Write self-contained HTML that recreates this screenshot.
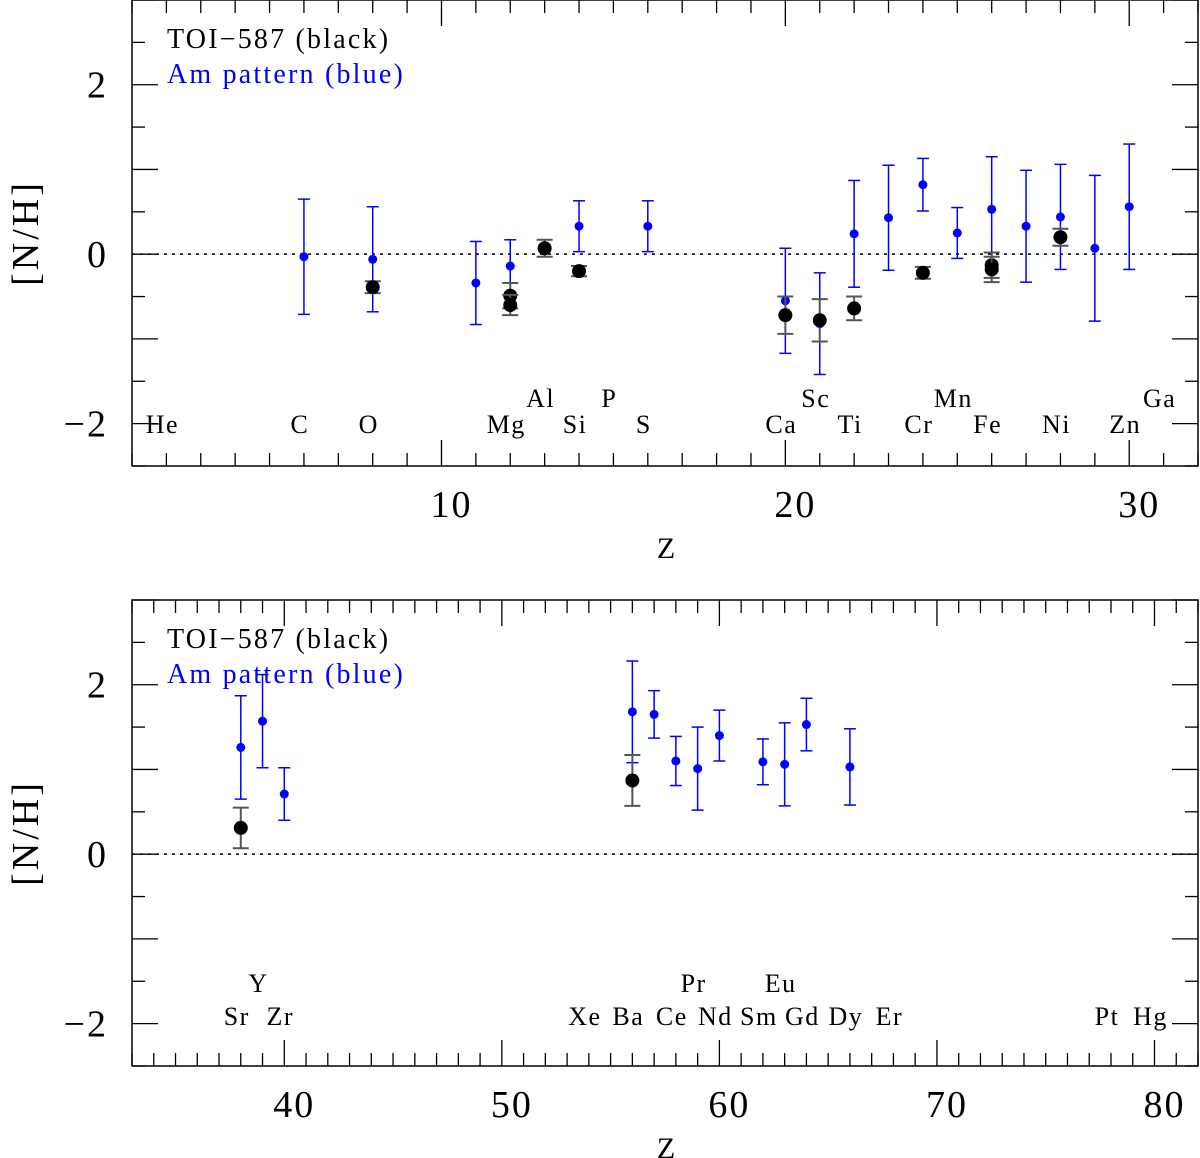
<!DOCTYPE html>
<html><head><meta charset="utf-8">
<style>
html,body{margin:0;padding:0;background:#fff;}
svg{display:block;font-family:"Liberation Serif",serif;}
</style></head>
<body>
<svg id="chart" width="1200" height="1158" viewBox="0 0 1200 1158" xmlns="http://www.w3.org/2000/svg"></svg>
<script>
// ---- Top panel data ----
const topBlueZ   = [6, 8, 11, 12, 14, 16, 20, 21, 22, 23, 24, 25, 26, 27, 28, 29, 30];
const topBlueVal = [-0.03, -0.06, -0.34, -0.14, 0.33, 0.33, -0.55, -0.82, 0.24, 0.43, 0.82, 0.25, 0.53, 0.33, 0.44, 0.07, 0.56];
const topBlueErr = [0.68, 0.62, 0.49, 0.31, 0.30, 0.30, 0.62, 0.60, 0.63, 0.62, 0.31, 0.30, 0.62, 0.66, 0.62, 0.86, 0.74];
const topBlackZ   = [8, 12, 12, 13, 14, 20, 21, 22, 24, 26, 26, 28];
const topBlackVal = [-0.39, -0.49, -0.60, 0.07, -0.20, -0.72, -0.78, -0.64, -0.22, -0.13, -0.18, 0.20];
const topBlackErr = [0.07, 0.15, 0.12, 0.10, 0.06, 0.22, 0.25, 0.14, 0.07, 0.15, 0.15, 0.10];
const topLabelsLow  = [["He",2],["C",6],["O",8],["Mg",12],["Si",14],["S",16],["Ca",20],["Ti",22],["Cr",24],["Fe",26],["Ni",28],["Zn",30]];
const topLabelsHigh = [["Al",13],["P",15],["Sc",21],["Mn",25],["Ga",31]];
const topXTicks = [10, 20, 30];
// ---- Bottom panel data ----
const botBlueZ   = [38, 39, 40, 56, 57, 58, 59, 60, 62, 63, 64, 66];
const botBlueVal = [1.26, 1.57, 0.71, 1.68, 1.65, 1.10, 1.01, 1.40, 1.09, 1.06, 1.53, 1.03];
const botBlueErr = [0.61, 0.55, 0.31, 0.60, 0.28, 0.29, 0.49, 0.30, 0.27, 0.49, 0.31, 0.45];
const botBlackZ   = [38, 56];
const botBlackVal = [0.31, 0.87];
const botBlackErr = [0.24, 0.30];
const botLabelsLow  = [["Sr",38],["Zr",40],["Xe",54],["Ba",56],["Ce",58],["Nd",60],["Sm",62],["Gd",64],["Dy",66],["Er",68],["Pt",78],["Hg",80]];
const botLabelsHigh = [["Y",39],["Pr",59],["Eu",63]];
const botXTicks = [40, 50, 60, 70, 80];
const yTicks = [-2, 0, 2];

const NS = "http://www.w3.org/2000/svg";
const svg = document.getElementById("chart");
function mk(tag, attrs, parent, text){
  const e = document.createElementNS(NS, tag);
  for (const k in attrs) e.setAttribute(k, attrs[k]);
  if (text !== undefined) e.textContent = text;
  (parent || svg).appendChild(e);
  return e;
}

function panel(cfg){
  const L=132, R=1198, T=cfg.top, B=cfg.top+466;
  const sx = z => L + (z - cfg.zmin) / (cfg.zmax - cfg.zmin) * (R - L);
  const sy = v => T + (3 - v) / 5.5 * (B - T);
  const g = mk("g", {});
  
  
  const frame = mk("rect", {x:L, y:T, width:R-L, height:B-T, fill:"none", stroke:"#000", "stroke-width":1.5}, g);
  
  
  for (let z = Math.ceil(cfg.zmin); z <= cfg.zmax; z++){
    const big = z % 10 === 0, len = big ? 26 : 13, x = sx(z);
    mk("line", {x1:x, y1:B, x2:x, y2:B-len, stroke:"#000", "stroke-width":1.3}, g);
    mk("line", {x1:x, y1:T, x2:x, y2:T+len, stroke:"#000", "stroke-width":1.3}, g);
  }
  for (let v = -2.5; v <= 3; v += 0.5){
    const big = Math.abs(v % 1) < 1e-6, len = big ? 26 : 13, y = sy(v);
    mk("line", {x1:L, y1:y, x2:L+len, y2:y, stroke:"#000", "stroke-width":1.3}, g);
    mk("line", {x1:R, y1:y, x2:R-len, y2:y, stroke:"#000", "stroke-width":1.3}, g);
  }
  cfg.xticks.forEach(z => {
    const t = mk("text", {x:sx(z)+10, y:B+51, "font-size":38, "text-anchor":"middle", "letter-spacing":2}, g, String(z));
    
    
  });
  yTicks.forEach(v => {
    const t = mk("text", {x:108, y:sy(v)+13, "font-size":38, "text-anchor":"end", "letter-spacing":2}, g, v < 0 ? "\u2212" + Math.abs(v) : String(v));
    
    
  });
  const xl = mk("text", {x:666, y:B+92, "font-size":30, "text-anchor":"middle"}, g, "Z");
  
  
  const yl = mk("text", {x:0, y:0, "font-size":38, "text-anchor":"middle", "letter-spacing":3, transform:`translate(38,${sy(0.25)}) rotate(-90)`}, g, "[N/H]");
  
  
  const zl = mk("line", {x1:L, y1:sy(0), x2:R, y2:sy(0), stroke:"#000", "stroke-width":1.5, "stroke-dasharray":"3,5"}, g);
  
  
  cfg.low.forEach(([n,z]) => {
    const t = mk("text", {x:sx(z)-4, y:cfg.lowY, "font-size":26, "text-anchor":"middle", "letter-spacing":1.5}, g, n);
    
    
  });
  cfg.high.forEach(([n,z]) => {
    const t = mk("text", {x:sx(z)-4, y:cfg.highY, "font-size":26, "text-anchor":"middle", "letter-spacing":1.5}, g, n);
    
    
  });
  const l1 = mk("text", {x:167, y:T+48, "font-size":28, "letter-spacing":2.2}, g, "TOI\u2212587 (black)");
  
  
  const l2 = mk("text", {x:167, y:T+83, "font-size":28, "letter-spacing":2.2, fill:"#0000ff"}, g, "Am pattern (blue)");
  
  
  function series(zs, vals, errs, color, r, cap, sw, name){
    zs.forEach((z,i) => {
      const x = sx(z), y1 = sy(vals[i]+errs[i]), y2 = sy(vals[i]-errs[i]);
      const eg = mk("g", {}, g);
      
      
      mk("line", {x1:x, y1:y1, x2:x, y2:y2, stroke:color, "stroke-width":sw}, eg);
      mk("line", {x1:x-cap, y1:y1, x2:x+cap, y2:y1, stroke:color, "stroke-width":sw}, eg);
      mk("line", {x1:x-cap, y1:y2, x2:x+cap, y2:y2, stroke:color, "stroke-width":sw}, eg);
      const c = mk("circle", {cx:x, cy:sy(vals[i]), r:r, fill:color === "#555" ? "#000" : color}, g);
      
      
    });
  }
  series(cfg.bz, cfg.bv, cfg.be, "#0000ff", 4.5, 6, 1.5, "am-pattern");
  series(cfg.kz, cfg.kv, cfg.ke, "#555", 7, 8, 2, "toi587");
}

panel({name:"top-panel", top:0, zmin:1, zmax:32, xticks:topXTicks, low:topLabelsLow, high:topLabelsHigh, lowY:433, highY:407,
  bz:topBlueZ, bv:topBlueVal, be:topBlueErr, kz:topBlackZ, kv:topBlackVal, ke:topBlackErr});
panel({name:"bottom-panel", top:600, zmin:33, zmax:82, xticks:botXTicks, low:botLabelsLow, high:botLabelsHigh, lowY:1025, highY:992,
  bz:botBlueZ, bv:botBlueVal, be:botBlueErr, kz:botBlackZ, kv:botBlackVal, ke:botBlackErr});
</script>
</body></html>
